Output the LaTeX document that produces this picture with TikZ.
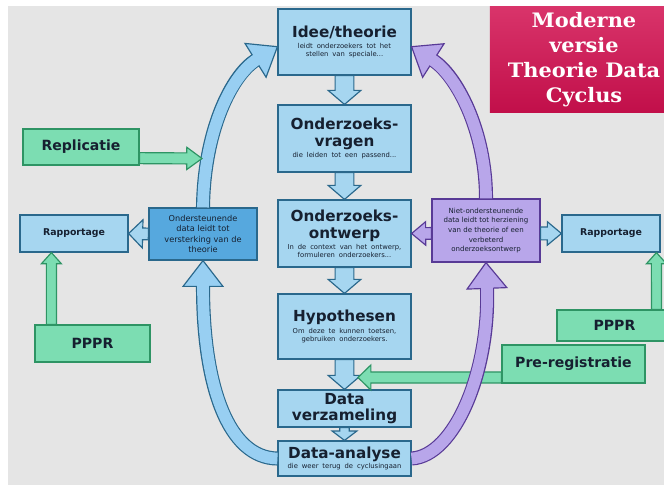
\documentclass[tikz,border=0pt]{standalone}
\usepackage{fontspec}
\setmainfont{DejaVu Sans}
\newfontfamily\titelfont[FakeStretch=1.05]{DejaVu Serif}
\usetikzlibrary{calc}

\definecolor{grijs}{RGB}{229,229,229}
\definecolor{lichtblauw}{RGB}{166,214,240}
\definecolor{blauwrand}{RGB}{42,104,140}
\definecolor{middenblauw}{RGB}{86,168,222}
\definecolor{boogblauw}{RGB}{152,207,242}
\definecolor{paars}{RGB}{184,166,234}
\definecolor{paarsrand}{RGB}{88,58,150}
\definecolor{groen}{RGB}{124,221,178}
\definecolor{groenrand}{RGB}{46,148,100}
\definecolor{karmijn}{RGB}{210,16,80}
\definecolor{tekst}{RGB}{22,32,48}

\newcommand{\kop}{\fontsize{13}{15}\selectfont\bfseries}
\newcommand{\klein}{\fontsize{5.8}{7}\selectfont}

% rechte blokpijl: stijl, van, naar, halve schacht, halve kop, koplengte
\newcommand{\blokpijl}[6]{%
  \path (#2) coordinate (bp-a) (#3) coordinate (bp-b);
  \path ($(bp-b)!#6!(bp-a)$) coordinate (bp-n);
  \filldraw[#1, line join=miter]
    ($(bp-a)!#4!90:(bp-b)$) -- ($(bp-n)!#4!90:(bp-b)$) -- ($(bp-n)!#5!90:(bp-b)$) -- (bp-b)
    -- ($(bp-n)!#5!-90:(bp-b)$) -- ($(bp-n)!#4!-90:(bp-b)$) -- ($(bp-a)!#4!-90:(bp-b)$) -- cycle;
}
% gebogen pijl: vulling, rand, van, c1, c2, naar
\newcommand{\boogpijl}[6]{%
  \path (#6) coordinate (bo-b) (#5) coordinate (bo-c);
  \path ($(bo-b)!22pt!(bo-c)$) coordinate (bo-n);
  \filldraw[fill=#1, draw=#2, line width=1pt, line join=miter]
    ($(bo-n)!17pt!90:(bo-b)$) -- (bo-b) -- ($(bo-n)!17pt!-90:(bo-b)$) -- cycle;
  \draw[#2, line width=12pt] (#3) .. controls (#4) and (#5) .. (bo-n);
  \draw[#1, line width=10pt] (#3) .. controls (#4) and (#5) .. ($(bo-n)!1.5pt!(bo-b)$);
}

\tikzset{
  kader/.style={draw=blauwrand, fill=lichtblauw, line width=1pt, text=tekst, align=center, inner sep=2pt},
  midden/.style={kader, minimum width=3.99cm, text width=3.8cm},
  rapport/.style={kader, minimum width=#1, minimum height=1.11cm, font=\bfseries\fontsize{8}{10}\selectfont},
  groenvak/.style={draw=groenrand, fill=groen, line width=1pt, text=tekst, inner sep=2pt,
    font=\bfseries\fontsize{12}{14}\selectfont},
  blokblauw/.style={fill=lichtblauw, draw=blauwrand, line width=1pt},
  blokpaars/.style={fill=paars, draw=paarsrand, line width=1pt},
  blokgroen/.style={fill=groen, draw=groenrand, line width=1pt}
}

\begin{document}
\begin{tikzpicture}[x=0.03cm, y=-0.03cm]
\useasboundingbox (0,0) rectangle (664,490);
\fill[white] (0,0) rectangle (664,490);
\fill[grijs] (8,6) rectangle (664,485);

\node[midden, minimum height=1.98cm] (idee) at (344.5,42)
  {{\kop Idee/theorie\par}\vspace{2.5pt}{\klein leidt onderzoekers tot het\\stellen van speciale...\par}};
\node[midden, minimum height=2.01cm] (vragen) at (344.5,138.5)
  {{\kop Onderzoeks-\\vragen\par}\vspace{1pt}{\klein die leiden tot een passend...\par}};
\node[midden, minimum height=2.01cm] (ontwerp) at (344.5,233.5)
  {{\kop Onderzoeks-\\ontwerp\par}\vspace{1pt}{\klein In de context van het ontwerp,\\formuleren onderzoekers...\par}};
\node[midden, minimum height=1.95cm] (hyp) at (344.5,326.5)
  {{\kop Hypothesen\par}\vspace{1.5pt}{\klein Om deze te kunnen toetsen,\\gebruiken onderzoekers.\par}};
\node[midden, minimum height=1.11cm] (verz) at (344.5,408.5)
  {{\fontsize{13}{13.5}\selectfont\bfseries Data\\verzameling\par}};
\node[midden, minimum height=1.05cm] (analyse) at (344.5,458.5)
  {{\kop Data-analyse\par}\vspace{0.5pt}{\klein die weer terug de cyclusingaan\par}};

\node[groenvak, minimum width=3.48cm, minimum height=1.08cm] (repl) at (81,147) {Replicatie};
\node[rapport=3.24cm] (rapL) at (74,233.5) {Rapportage};
\node[kader, fill=middenblauw, minimum width=3.24cm, minimum height=1.56cm,
  font=\fontsize{7}{9}\selectfont] (steun) at (203,234)
  {Ondersteunende\\data leidt tot\\versterking van de\\theorie};
\node[groenvak, minimum width=3.45cm, minimum height=1.11cm] (ppprL) at (92.5,343.5) {PPPR};

\node[kader, fill=paars, draw=paarsrand, minimum width=3.24cm, minimum height=1.89cm,
  font=\fontsize{6}{8.2}\selectfont] (niet) at (486,230.5)
  {Niet-ondersteunende\\data leidt tot herziening\\van de theorie of een\\verbeterd\\onderzoeksontwerp};
\node[rapport=2.94cm] (rapR) at (611,233.5) {Rapportage};
\node[groenvak, minimum width=3.45cm, minimum height=0.93cm] (ppprR) at (614.5,325.5) {PPPR};
\node[groenvak, minimum width=4.29cm, minimum height=1.14cm] (prereg) at (573.5,364) {Pre-registratie};

\node[top color=karmijn!85!white, bottom color=karmijn!92!black, text=white, align=center,
  minimum width=5.64cm, minimum height=3.18cm,
  font=\titelfont\bfseries\fontsize{17}{21.5}\selectfont] (titel) at (584,59.5)
  {Moderne\\versie\\Theorie Data\\Cyclus};

\coordinate (repl-doel) at (202,158.5);
\coordinate (gat) at (358,377.5);

\blokpijl{blokblauw}{idee.south}{vragen.north}{8pt}{14pt}{12pt}
\blokpijl{blokblauw}{vragen.south}{ontwerp.north}{8pt}{14pt}{12pt}
\blokpijl{blokblauw}{ontwerp.south}{hyp.north}{8pt}{14pt}{12pt}
\blokpijl{blokblauw}{hyp.south}{verz.north}{8pt}{14pt}{12pt}
\blokpijl{blokblauw}{verz.south}{analyse.north}{4pt}{10.5pt}{8pt}

\boogpijl{boogblauw}{blauwrand}{analyse.west}{228,458}{203,385}{steun.south}
\boogpijl{boogblauw}{blauwrand}{steun.north}{204,130}{232,75}{[yshift=-4pt]idee.west}

\blokpijl{blokblauw}{steun.west}{rapL.east}{5pt}{12pt}{12pt}
\blokpijl{blokpaars}{[yshift=-2.5pt]niet.west}{ontwerp.east}{5pt}{10pt}{12pt}
\blokpijl{blokblauw}{[yshift=-2.5pt]niet.east}{rapR.west}{5.5pt}{10pt}{12pt}

\blokpijl{blokgroen}{[yshift=-9.5pt]repl.east}{repl-doel}{4.7pt}{9.5pt}{13pt}
\blokpijl{blokgroen}{[xshift=14.5pt]ppprL.north west}{[xshift=27.3pt]rapL.south west}{4.3pt}{8.5pt}{9.5pt}
\blokpijl{blokgroen}{[xshift=85.4pt]ppprR.north west}{[xshift=81.1pt]rapR.south west}{4.3pt}{8.5pt}{9.5pt}
\blokpijl{blokgroen}{[yshift=-11.5pt]prereg.west}{gat}{4.7pt}{10.7pt}{11pt}

\boogpijl{paars}{paarsrand}{niet.north}{486,130}{456,75}{[yshift=-4pt]idee.east}
\boogpijl{paars}{paarsrand}{analyse.east}{455,456}{490,370}{niet.south}
\end{tikzpicture}
\end{document}
